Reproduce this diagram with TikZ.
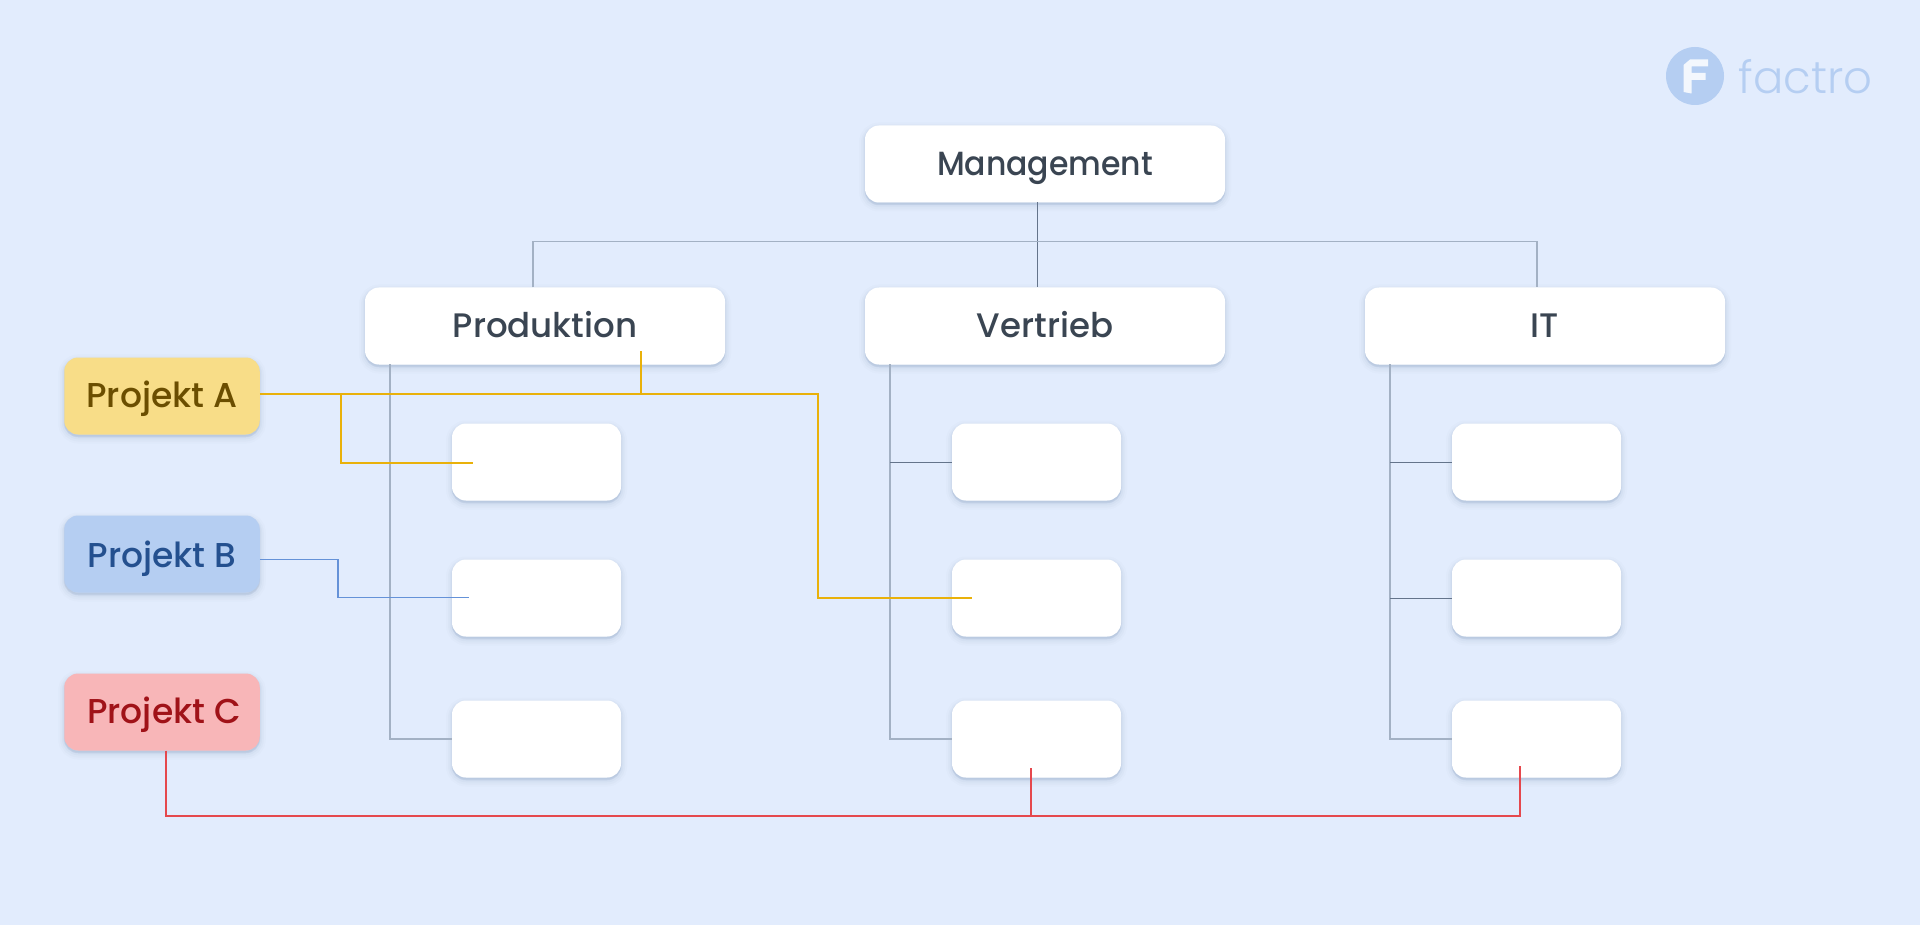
\documentclass[tikz,border=0pt]{standalone}
\usepackage{fontspec}
\setmainfont{Poppins Medium}
\newfontfamily\mgmtfont[FakeStretch=0.94]{Poppins Medium}
\newfontfamily\logofont{Poppins Light}
\usetikzlibrary{calc}
\definecolor{bgc}{HTML}{E2ECFD}
\definecolor{ink}{HTML}{3A4552}
\definecolor{shc}{HTML}{2A4A7A}
\definecolor{greyl}{HTML}{A3B1C4}
\definecolor{greyd}{HTML}{64748B}
\definecolor{goldl}{HTML}{E9B10A}
\definecolor{bluel}{HTML}{6592D8}
\definecolor{redl}{HTML}{E5484D}
\definecolor{yfill}{HTML}{F8DD88}
\definecolor{bfill}{HTML}{B5CEF2}
\definecolor{rfill}{HTML}{F8B6B8}
\definecolor{ytext}{HTML}{6B4E00}
\definecolor{btext}{HTML}{24508F}
\definecolor{rtext}{HTML}{A01218}
\tikzset{
  x=1pt,y=-1pt,
  softshadow/.style={
    preaction={draw=shc,fill=shc,draw opacity=.016,fill opacity=.016,line width=12pt,transform canvas={yshift=-3pt}},
    preaction={draw=shc,fill=shc,draw opacity=.022,fill opacity=.022,line width=8pt,transform canvas={yshift=-3pt}},
    preaction={draw=shc,fill=shc,draw opacity=.03,fill opacity=.03,line width=4.5pt,transform canvas={yshift=-2.5pt}},
    preaction={draw=shc,fill=shc,draw opacity=.035,fill opacity=.035,line width=2pt,transform canvas={yshift=-1.5pt}}},
  card/.style={softshadow,fill=white,rounded corners=14pt,inner sep=0pt,outer sep=0pt,font=\fontsize{34}{40}\selectfont},
  bigcard/.style={card,minimum width=360pt,minimum height=77pt,text=ink,text height=22.5pt,text depth=0pt},
  smallcard/.style={card,minimum width=169pt,minimum height=77pt},
  projcard/.style={card,minimum width=195.5pt,minimum height=77pt,text height=23pt,text depth=0pt,font=\fontsize{34.5}{40}\selectfont},
  org/.style={draw=greyl,line width=1.8pt},
  orgthin/.style={draw=greyd,line width=1pt},
  golden/.style={draw=goldl,line width=2pt},
  bluish/.style={draw=bluel,line width=1.8pt},
  reddish/.style={draw=redl,line width=2pt},
}
\begin{document}
\begin{tikzpicture}
\useasboundingbox (0,0) rectangle (1920,925);
\fill[bgc] (0,0) rectangle (1920,925);

\coordinate (busL) at (533,241.5);
\coordinate (busR) at (1537,241.5);
\coordinate (busM) at (1037.5,241.5);
\coordinate (spA) at (390,364);
\coordinate (spB) at (890,364);
\coordinate (spC) at (1390,364);

% cards
\node[bigcard,font=\mgmtfont\fontsize{33.5}{40}\selectfont] (mgmt) at (1045,164) {Management};
\node[bigcard] (prod) at (545,326) {Produktion};
\node[bigcard] (vert) at (1045,326) {Vertrieb};
\node[bigcard] (it) at (1545,326) {IT};
\node[smallcard] (a1) at (536.5,462) {};
\node[smallcard] (a2) at (536.5,598) {};
\node[smallcard] (a3) at (536.5,739) {};
\node[smallcard] (b1) at (1036.5,462) {};
\node[smallcard] (b2) at (1036.5,598) {};
\node[smallcard] (b3) at (1036.5,739) {};
\node[smallcard] (c1) at (1536.5,462) {};
\node[smallcard] (c2) at (1536.5,598) {};
\node[smallcard] (c3) at (1536.5,739) {};
\node[projcard,fill=yfill,text=ytext] (pa) at (162,396) {Projekt A};
\node[projcard,fill=bfill,text=btext,text height=27.5pt] (pb) at (162,554) {Projekt B};
\node[projcard,fill=rfill,text=rtext] (pc) at (162,712) {\hspace{4pt}Projekt C};

% management bus
\draw[orgthin] (mgmt.south -| busM) -- (vert.north -| busM);
\draw[org] (prod.north -| busL) -- (busL) -- (busR) -- (it.north -| busR);

% department spines
\draw[org] (spA) |- (a3.west);
\draw[org] (spB) |- (b3.west);
\draw[org] (spC) |- (c3.west);
\draw[orgthin] (spB |- b1.west) -- (b1.west);
\draw[orgthin] (spB |- b2.west) -- (b2.west);
\draw[orgthin] (spC |- c1.west) -- (c1.west);
\draw[orgthin] (spC |- c2.west) -- (c2.west);

% Projekt A
\coordinate (gA) at (341,393.5);
\coordinate (gB) at (640.5,393.5);
\coordinate (gC) at (817.5,393.5);
\coordinate (gEnd1) at (473,463);
\coordinate (gEnd2) at (640.5,351.5);
\coordinate (gEnd3) at (972,598);
\draw[golden] (pa.east |- gA) -- (gC) |- (gEnd3);
\draw[golden] (gA) |- (gEnd1);
\draw[golden] (gB) -- (gEnd2);

% Projekt B
\coordinate (blEnd) at (469,597.5);
\draw[bluish] (pb.east) ++(0,5.5) -| (338,579) |- (blEnd);

% Projekt C
\coordinate (rA) at (166,815.5);
\coordinate (rB) at (1031,815.5);
\coordinate (rC) at (1520,815.5);
\coordinate (rEnd2) at (1031,767.5);
\coordinate (rEnd3) at (1520,765.5);
\draw[reddish] (rA |- pc.south) -- (rA) -- (rC) -- (rEnd3);
\draw[reddish] (rB) -- (rEnd2);

% logo
\fill[bfill] (1695,76) circle (29);
\fill[white,fill opacity=.85] (1683.5,65) -- (1690,59.5) -- (1708,59.5) -- (1708,66.5) -- (1691.5,66.5)
  -- (1691.5,73) -- (1705.5,73) -- (1705.5,80) -- (1691.5,80) -- (1691.5,93.5) -- (1683.5,92) -- cycle;
\node[anchor=base west,inner sep=0pt,text=bfill,font=\logofont\fontsize{45}{50}\selectfont] (logo) at (1738.5,94) {factro};
\end{tikzpicture}
\end{document}
